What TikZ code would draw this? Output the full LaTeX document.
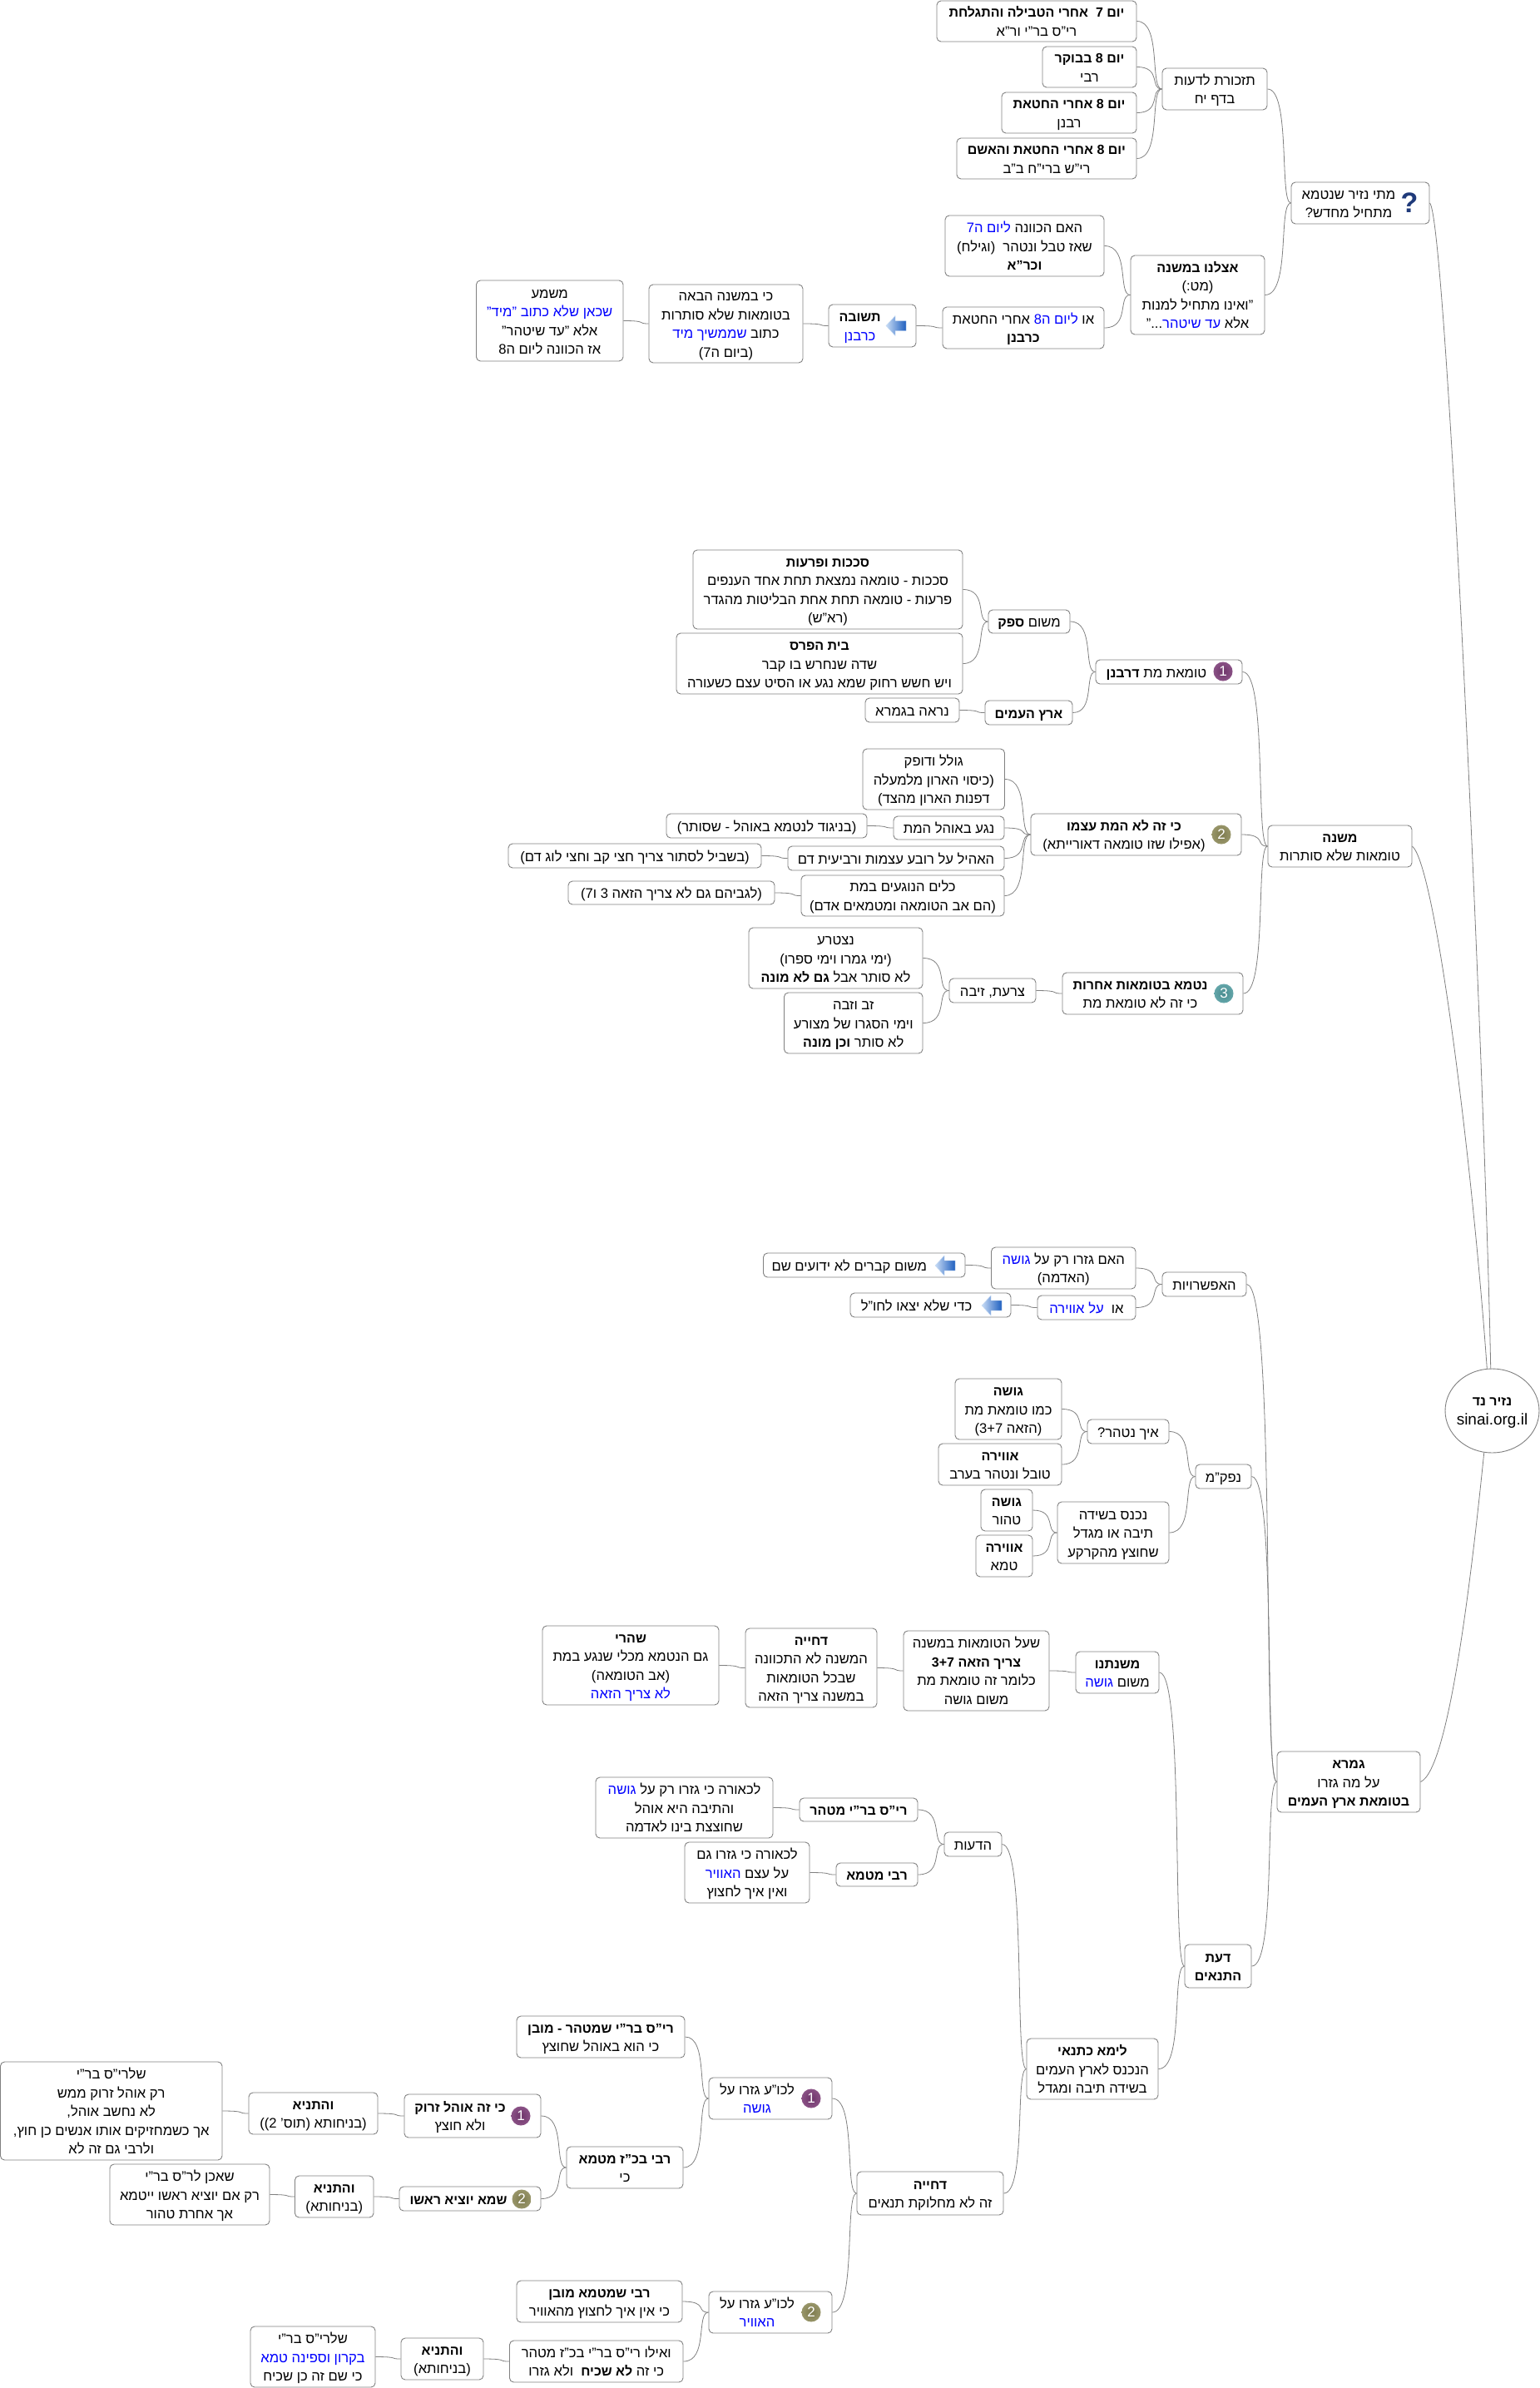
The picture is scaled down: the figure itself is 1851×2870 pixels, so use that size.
\documentclass[tikz,border=0pt]{standalone}
\usepackage{fontspec}
\usetikzlibrary{calc,shapes.geometric}
\setmainfont[Script=Hebrew]{Liberation Sans}
\TeXXeTstate=1
\definecolor{edgegray}{HTML}{808080}
\definecolor{inkblue}{HTML}{0000FF}
\definecolor{ballA}{HTML}{7A3A75}
\definecolor{ballB}{HTML}{8A8755}
\definecolor{ballC}{HTML}{4F9A9E}
\definecolor{qblue}{HTML}{1F3A7A}
\definecolor{arrowlight}{HTML}{C8DCF5}
\definecolor{arrowdark}{HTML}{1F5FBF}
\newcommand{\bfw}{\fontsize{16}{22.5}\selectfont\bfseries}
\newcommand{\hb}[1]{\beginR #1\endR}
\newcommand{\hbd}[1]{{\bfw\beginR #1\endR}}
\newcommand{\bl}[1]{\textcolor{inkblue}{\beginR #1\endR}}
\tikzset{
  mmbox/.style={draw=edgegray,fill=white,line width=0.9pt,rounded corners=5pt,inner sep=0pt,rectangle,font=\fontsize{16.6}{22.5}\selectfont},
  mmroot/.style={draw=edgegray,fill=white,line width=0.9pt,ellipse,inner sep=0pt,minimum width=113pt,minimum height=101pt,font=\fontsize{16.6}{22.5}\selectfont},
  conn/.style={draw=edgegray,line width=0.8pt},
  ballicon/.style={circle,inner sep=0pt,minimum size=23pt,text=white,font=\fontsize{17}{17}\selectfont},
}
% box: [text shift]{name}{x0}{y0}{x1}{y1}{lines}
\newcommand{\bx}[7][0]{%
  \node[mmbox,minimum width={(#5-#3)*1pt},minimum height={(#6-#4)*1pt}] (#2) at ({(#3+#5)/2},{(#4+#6)/2})
  {\raisebox{-2pt}[\height][\depth]{\makebox[0pt]{\begin{tabular}{@{}c@{}}#7\end{tabular}\hspace*{#1pt}}}};}
\newcommand{\conn}[2]{\draw[conn] let \p1=(#1.west),\p2=(#2.east) in (\p2) .. controls (\x1,\y2) and ({0.5*\x1+0.5*\x2},\y1) .. (\p1);}
\newcommand{\ballnode}[5]{\node[ballicon,shading=radial,inner color=#4!90!black,outer color=#4!88!white] (#1) at (#2,#3) {#5};}
\newcommand{\arrowicon}[3]{\coordinate (#1) at (#2,#3);
  \shade[left color=arrowlight,right color=arrowdark,draw=arrowlight,line width=0.4pt] ($(#1)+(-12,0)$) -- ($(#1)+(-1,-12)$) -- ($(#1)+(-1,-6)$) -- ($(#1)+(12,-6)$) -- ($(#1)+(12,6)$) -- ($(#1)+(-1,6)$) -- ($(#1)+(-1,12)$) -- cycle;}
\begin{document}
\begin{tikzpicture}[x=1pt,y=-1pt]
\useasboundingbox (0,0) rectangle (1851,2870);
% root
\node[mmroot] (root) at (1793.5,1695.5) {\raisebox{-1pt}[\height][\depth]{\makebox[0pt]{\begin{tabular}{@{}c@{}}\hbd{נזיר נד}\\{\fontsize{19}{22.5}\selectfont sinai.org.il}\end{tabular}}}};
% top branch
\bx[28]{matai}{1552}{219}{1718}{269}{\hb{מתי נזיר שנטמא}\\\hb{מתחיל מחדש?}}
\bx{tizkoret}{1397}{82}{1523}{132}{\hb{תזכורת לדעות}\\\hb{בדף יח}}
\bx{yomA}{1126}{1}{1366}{50}{\hbd{יום 7\ \ אחרי הטבילה והתגלחת}\\\hb{רי"ס בר"י ור"א}}
\bx{yomB}{1253}{56}{1366}{105}{\hbd{יום 8 בבוקר}\\\hb{רבי}}
\bx{yomC}{1204}{111}{1366}{160}{\hbd{יום 8 אחרי החטאת}\\\hb{רבנן}}
\bx{yomD}{1150}{166}{1366}{215}{\hbd{יום 8 אחרי החטאת והאשם}\\\hb{רי"ש ברי"ח ב"ב}}
\bx{etzlenu}{1359}{307}{1520}{402}{\hbd{אצלנו במשנה}\\\hb{(מט:)}\\\hb{"ואינו מתחיל למנות}\\\hb{..."}\bl{עד שיטהר} \hb{אלא}}
\bx{haim}{1136}{259}{1327}{332}{\bl{ליום ה7} \hb{האם הכוונה}\\\hb{שאז טבל ונטהר\ \ (וגילח)}\\\hbd{וכר"א}}
\bx{oA}{1133}{369}{1327}{419}{\hb{אחרי החטאת} \bl{ליום ה8} \hb{או}\\\hbd{כרבנן}}
\bx[30]{tshuva}{996}{366}{1101}{417}{\hbd{תשובה}\\\bl{כרבנן}}
\bx{kiA}{780}{342}{965}{436}{\hb{כי במשנה הבאה}\\\hb{בטומאות שלא סותרות}\\\bl{שממשיך מיד} \hb{כתוב}\\\hb{(ביום ה7)}}
\bx{mashma}{572.5}{337}{749}{434}{\hb{משמע}\\\bl{שכאן שלא כתוב "מיד"}\\\hb{אלא "עד שיטהר"}\\\hb{אז הכוונה ליום ה8}}
% mishna branch
\bx{mishna}{1524}{992}{1697}{1042}{\hbd{משנה}\\\hb{טומאות שלא סותרות}}
\bx[30]{tumat}{1317}{793}{1493}{822}{\hb{טומאת מת {\bfw דרבנן}}}
\bx{mishum}{1188}{733}{1286}{761}{\hb{משום {\bfw ספק}}}
\bx{eretz}{1184}{842}{1289}{871}{\hbd{ארץ העמים}}
\bx{sechach}{833}{661}{1157}{756}{\hbd{סככות ופרעות}\\\hb{סככות - טומאה נמצאת תחת אחד הענפים}\\\hb{פרעות - טומאה תחת אחת הבליטות מהגדר}\\\hb{(רא"ש)}}
\bx{beit}{813}{761}{1157}{834}{\hbd{בית הפרס}\\\hb{שדה שנחרש בו קבר}\\\hb{ויש חשש רחוק שמא נגע או הסיט עצם כשעורה}}
\bx{nirah}{1040}{839}{1153}{868}{\hb{נראה בגמרא}}
\bx[29]{kizeh}{1239}{978}{1492}{1028}{\hbd{כי זה לא המת עצמו}\\\hb{(אפילו שזו טומאה דאורייתא)}}
\bx{golel}{1037}{900}{1207.5}{973}{\hb{גולל ודופק}\\\hb{(כיסוי הארון מלמעלה}\\\hb{דפנות הארון מהצד)}}
\bx{naga}{1074}{981}{1207}{1009}{\hb{נגע באוהל המת}}
\bx{beniged}{801}{978}{1042}{1007}{\hb{(בניגוד לנטמא באוהל - שסותר)}}
\bx{heehil}{947}{1017}{1207}{1046}{\hb{האהיל על רובע עצמות ורביעית דם}}
\bx{bishvil}{611}{1014}{915}{1043}{\hb{(בשביל לסתור צריך חצי קב וחצי לוג דם)}}
\bx{kelim}{963}{1052}{1207}{1101}{\hb{כלים הנוגעים במת}\\\hb{(הם אב הטומאה ומטמאים אדם)}}
\bx{legab}{683}{1059}{931}{1087}{\hb{(לגביהם גם לא צריך הזאה 3 ו7)}}
\bx[30]{nitma}{1277}{1169}{1494}{1219}{\hbd{נטמא בטומאות אחרות}\\\hb{כי זה לא טומאת מת}}
\bx{tzaraat}{1141}{1176}{1245}{1205}{\hb{צרעת, זיבה}}
\bx{nitzra}{900}{1115}{1109}{1188}{\hb{נצטרע}\\\hb{(ימי גמרו וימי ספרו)}\\\hb{לא סותר אבל {\bfw גם לא מונה}}}
\bx{zav}{942.5}{1193}{1109}{1266}{\hb{זב וזבה}\\\hb{וימי הסגרו של מצורע}\\\hb{לא סותר {\bfw וכן מונה}}}
% gemara branch
\bx{gemara}{1535}{2105}{1707}{2178}{\hbd{גמרא}\\\hb{על מה גזרו}\\\hbd{בטומאת ארץ העמים}}
\bx{efshar}{1397}{1529}{1498}{1558}{\hb{האפשרויות}}
\bx{haimG}{1191.5}{1499}{1365}{1549}{\bl{גושה} \hb{האם גזרו רק על}\\\hb{(האדמה)}}
\bx{oB}{1247}{1557}{1365}{1586}{\bl{על אווירה}\ \ \hb{או}}
\bx[36]{kvarim}{917.5}{1506}{1160}{1535}{\hb{משום קברים לא ידועים שם}}
\bx[34]{kdei}{1022}{1554}{1215}{1583}{\hb{כדי שלא יצאו לחו"ל}}
\bx{nafkam}{1437}{1760}{1504}{1789}{\hb{נפק"מ}}
\bx{eich}{1307}{1706}{1405}{1735}{\hb{איך נטהר?}}
\bx{goshaA}{1148}{1657}{1276}{1730}{\hbd{גושה}\\\hb{כמו טומאת מת}\\\hb{(הזאה 3+7)}}
\bx{aviraA}{1128}{1735}{1276}{1785}{\hbd{אווירה}\\\hb{טובל ונטהר בערב}}
\bx{nichnas}{1271}{1805}{1405}{1879}{\hb{נכנס בשידה}\\\hb{תיבה או מגדל}\\\hb{שחוצץ מהקרקע}}
\bx{goshaB}{1179}{1790}{1241}{1840}{\hbd{גושה}\\\hb{טהור}}
\bx{aviraB}{1173}{1845}{1241}{1895}{\hbd{אווירה}\\\hb{טמא}}
\bx{mishnat}{1293}{1985}{1393}{2035}{\hbd{משנתנו}\\\bl{גושה} \hb{משום}}
\bx{shel}{1086}{1960}{1261}{2056}{\hb{שעל הטומאות במשנה}\\\hbd{צריך הזאה 3+7}\\\hb{כלומר זה טומאת מת}\\\hb{משום גושה}}
\bx{dchiyaA}{896}{1957}{1054}{2052}{\hbd{דחייה}\\\hb{המשנה לא התכוונה}\\\hb{שבכל הטומאות}\\\hb{במשנה צריך הזאה}}
\bx{shehari}{652}{1954}{864}{2049}{\hbd{שהרי}\\\hb{גם הנטמא מכלי שנגע במת}\\\hb{(אב הטומאה)}\\\bl{לא צריך הזאה}}
\bx{daat}{1424}{2337}{1504}{2389}{\hbd{דעת}\\\hbd{התנאים}}
\bx{deot}{1135}{2202}{1204}{2231}{\hb{הדעות}}
\bx{ris}{961}{2161}{1103}{2189}{\hbd{רי"ס בר"י מטהר}}
\bx{lichA}{716}{2136}{929}{2209}{\bl{גושה} \hb{לכאורה כי גזרו רק על}\\\hb{והתיבה היא אוהל}\\\hb{שחוצצת בינו לאדמה}}
\bx{rabi}{1005}{2239}{1103}{2267}{\hbd{רבי מטמא}}
\bx{lichB}{823}{2214}{973}{2287}{\hb{לכאורה כי גזרו גם}\\\bl{האוויר} \hb{על עצם}\\\hb{ואין איך לחצוץ}}
\bx{lima}{1234}{2450}{1392}{2523}{\hbd{לימא כתנאי}\\\hb{הנכנס לארץ העמים}\\\hb{בשידה תיבה ומגדל}}
\bx{dchiyaB}{1030}{2610}{1206}{2662}{\hbd{דחייה}\\\hb{זה לא מחלוקת תנאים}}
\bx[32]{lekA}{852}{2497}{1000}{2547}{\hb{לכו"ע גזרו על}\\\bl{גושה}}
\bx[32]{lekB}{852}{2754}{1000}{2804}{\hb{לכו"ע גזרו על}\\\bl{האוויר}}
\bx{risshm}{621}{2423}{823}{2473}{\hbd{רי"ס בר"י שמטהר - מובן}\\\hb{כי הוא באוהל שחוצץ}}
\bx{rabibk}{681}{2580}{821}{2630}{\hbd{רבי בכ"ז מטמא}\\\hb{כי}}
\bx[30]{kizo}{486}{2517}{650}{2569}{\hbd{כי זה אוהל זרוק}\\\hb{ולא חוצץ}}
\bx[28]{shema}{480}{2628}{650}{2657}{\hbd{שמא יוציא ראשו}}
\bx{vtA}{299}{2515}{454}{2565}{\hbd{והתניא}\\\hb{(בניחותא (תוס' 2))}}
\bx{shelA}{0.5}{2478}{267}{2596}{\hb{שלרי"ס בר"י}\\\hb{רק אוהל זרוק ממש}\\\hb{לא נחשב אוהל,}\\\hb{אך כשמחזיקים אותו אנשים כן חוץ,}\\\hb{ולרבי גם זה לא}}
\bx{vtB}{354.5}{2615}{449}{2665}{\hbd{והתניא}\\\hb{(בניחותא)}}
\bx{sheach}{132}{2601}{324}{2674}{\hb{שאכן לר"ס בר"י}\\\hb{רק אם יוציא ראשו ייטמא}\\\hb{אך אחרת טהור}}
\bx{rabishm}{621}{2741}{820}{2791}{\hbd{רבי שמטמא מובן}\\\hb{כי אין איך לחצוץ מהאוויר}}
\bx{veilu}{612.5}{2813}{821}{2863}{\hb{ואילו רי"ס בר"י בכ"ז מטהר}\\\hb{כי זה {\bfw לא שכיח}\ \ ולא גזרו}}
\bx{vtC}{482}{2810}{581}{2860}{\hbd{והתניא}\\\hb{(בניחותא)}}
\bx{shelB}{301}{2796}{451}{2869}{\hb{שלרי"ס בר"י}\\\bl{בקרון וספינה טמא}\\\hb{כי שם זה כן שכיח}}
% icons
\node[text=qblue,inner sep=0pt,font=\fontsize{34}{34}\selectfont\bfseries] (qmark) at (1694,244) {?};
\ballnode{iA}{1470}{807}{ballA}{1}
\ballnode{iB}{1468}{1003}{ballB}{2}
\ballnode{iC}{1471}{1194}{ballC}{3}
\ballnode{iD}{626}{2543}{ballA}{1}
\ballnode{iE}{627}{2643}{ballB}{2}
\ballnode{iF}{975}{2522}{ballA}{1}
\ballnode{iG}{975}{2779}{ballB}{2}
\arrowicon{arA}{1077}{391.5}
\arrowicon{arB}{1136}{1521}
\arrowicon{arC}{1192}{1569}
% connectors
\draw[conn] (matai.east) .. controls +(20,16) and (1785,1300) .. (root.92);
\draw[conn] (mishna.east) .. controls +(28,23) and (1770,1400) .. (root.97);
\draw[conn] (gemara.east) .. controls +(35,-15) and (1770,1880) .. (root.259);
\conn{matai}{tizkoret}\conn{matai}{etzlenu}
\conn{tizkoret}{yomA}\conn{tizkoret}{yomB}\conn{tizkoret}{yomC}\conn{tizkoret}{yomD}
\conn{etzlenu}{haim}\conn{etzlenu}{oA}\conn{oA}{tshuva}\conn{tshuva}{kiA}\conn{kiA}{mashma}
\conn{mishna}{tumat}\conn{mishna}{kizeh}\conn{mishna}{nitma}
\conn{tumat}{mishum}\conn{tumat}{eretz}\conn{mishum}{sechach}\conn{mishum}{beit}\conn{eretz}{nirah}
\conn{kizeh}{golel}\conn{kizeh}{naga}\conn{kizeh}{heehil}\conn{kizeh}{kelim}
\conn{naga}{beniged}\conn{heehil}{bishvil}\conn{kelim}{legab}
\conn{nitma}{tzaraat}\conn{tzaraat}{nitzra}\conn{tzaraat}{zav}
\conn{gemara}{efshar}\conn{gemara}{nafkam}\conn{gemara}{daat}
\conn{efshar}{haimG}\conn{efshar}{oB}\conn{haimG}{kvarim}\conn{oB}{kdei}
\conn{nafkam}{eich}\conn{nafkam}{nichnas}\conn{eich}{goshaA}\conn{eich}{aviraA}\conn{nichnas}{goshaB}\conn{nichnas}{aviraB}
\conn{mishnat}{shel}\conn{shel}{dchiyaA}\conn{dchiyaA}{shehari}
\conn{daat}{mishnat}\conn{daat}{lima}\conn{lima}{deot}\conn{deot}{ris}\conn{deot}{rabi}\conn{ris}{lichA}\conn{rabi}{lichB}
\conn{lima}{dchiyaB}\conn{dchiyaB}{lekA}\conn{dchiyaB}{lekB}
\conn{lekA}{risshm}\conn{lekA}{rabibk}\conn{rabibk}{kizo}\conn{rabibk}{shema}
\conn{kizo}{vtA}\conn{vtA}{shelA}\conn{shema}{vtB}\conn{vtB}{sheach}
\conn{lekB}{rabishm}\conn{lekB}{veilu}\conn{veilu}{vtC}\conn{vtC}{shelB}
\end{tikzpicture}
\end{document}
